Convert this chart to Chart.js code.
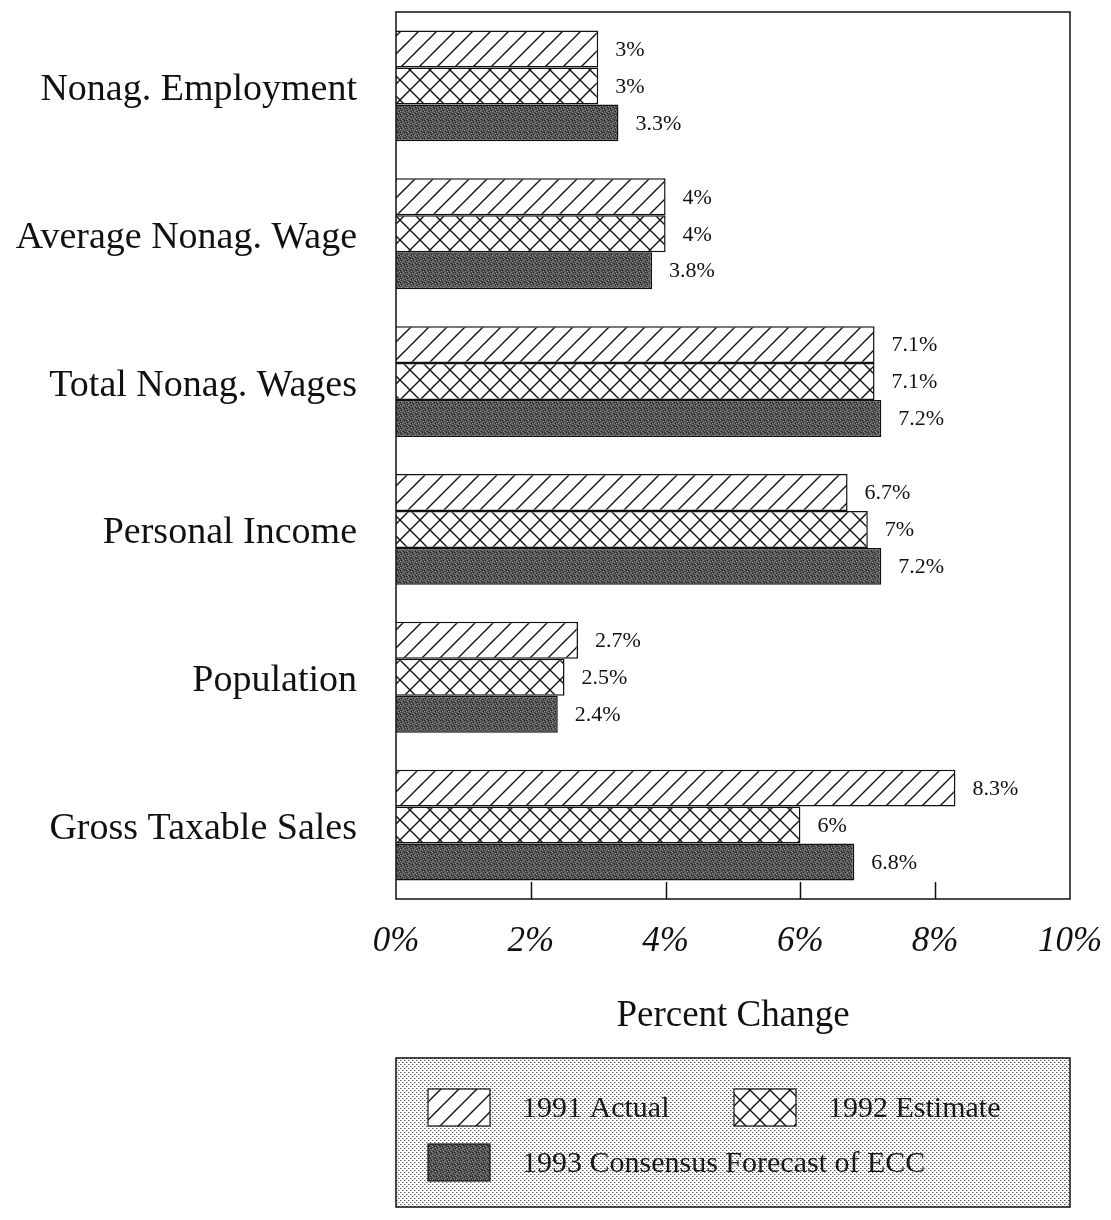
<!DOCTYPE html>
<html>
<head>
<meta charset="utf-8">
<title>Economic indicators - percent change</title>
<script src="https://cdn.jsdelivr.net/npm/chart.js@4.4.1/dist/chart.umd.min.js"></script>
<style>
  html, body { margin: 0; padding: 0; background: #fff; }
  #wrap { width: 1111px; height: 1220px; }
</style>
</head>
<body>
<div id="wrap"><canvas id="chart" width="1111" height="1220"></canvas></div>
<script>
// data
const categories = ['Nonag. Employment', 'Average Nonag. Wage', 'Total Nonag. Wages', 'Personal Income', 'Population', 'Gross Taxable Sales'];
const actual1991 = [3, 4, 7.1, 6.7, 2.7, 8.3];
const estimate1992 = [3, 4, 7.1, 7, 2.5, 6];
const forecast1993 = [3.3, 3.8, 7.2, 7.2, 2.4, 6.8];
const seriesNames = ['1991 Actual', '1992 Estimate', '1993 Consensus Forecast of ECC'];
const xTicks = [0, 2, 4, 6, 8, 10];
const axisTitle = 'Percent Change';

const SERIF = '"Liberation Serif", "Times New Roman", serif';
const INK = '#111';

// fill patterns
function makePattern(w, h, draw) {
    const c = document.createElement('canvas');
    c.width = w; c.height = h;
    const g = c.getContext('2d');
    draw(g, w, h);
    return g.createPattern(c, 'repeat');
}

const hatchFill = makePattern(18, 18, (g, s) => {
    g.fillStyle = '#fff'; g.fillRect(0, 0, s, s);
    g.strokeStyle = INK; g.lineWidth = 1.4;
    g.beginPath();
    g.moveTo(-2, s + 2); g.lineTo(s + 2, -2);
    g.moveTo(-2, 2); g.lineTo(2, -2);
    g.moveTo(s - 2, s + 2); g.lineTo(s + 2, s - 2);
    g.stroke();
});

const crossFill = makePattern(20, 20, (g, s) => {
    g.fillStyle = '#fff'; g.fillRect(0, 0, s, s);
    g.strokeStyle = INK; g.lineWidth = 1.4;
    g.beginPath();
    g.moveTo(-2, s + 2); g.lineTo(s + 2, -2);
    g.moveTo(-2, -2); g.lineTo(s + 2, s + 2);
    g.stroke();
});

// dark stipple, fixed pixel layout
const darkFill = makePattern(6, 6, (g) => {
    g.fillStyle = '#505050'; g.fillRect(0, 0, 6, 6);
    g.fillStyle = '#8a8a8a';
    [[0,0],[3,1],[1,2],[4,3],[2,4],[5,5],[0,3]].forEach(p => g.fillRect(p[0], p[1], 1, 1));
    g.fillStyle = '#262626';
    [[2,0],[5,2],[1,5],[3,3],[4,0]].forEach(p => g.fillRect(p[0], p[1], 1, 1));
});

// light dotted screen of the legend box
const dotFill = makePattern(4, 4, (g) => {
    g.fillStyle = '#fff'; g.fillRect(0, 0, 4, 4);
    g.fillStyle = '#555'; g.fillRect(0, 0, 1, 1); g.fillRect(2, 2, 1, 1);
    g.fillStyle = '#bbb'; g.fillRect(1, 0, 1, 1); g.fillRect(3, 2, 1, 1);
});

function noPadding(s) {
    s.paddingLeft = 0; s.paddingRight = 0; s.paddingTop = 0; s.paddingBottom = 0;
}

// frame round the plot plus inward ticks on the bottom axis
const framePlugin = {
    id: 'frame',
    afterDraw(chart) {
        const g = chart.ctx, a = chart.chartArea, xs = chart.scales.x;
        g.save();
        g.strokeStyle = INK; g.lineWidth = 1.5;
        g.strokeRect(a.left, a.top, a.right - a.left, a.bottom - a.top);
        g.beginPath();
        xTicks.slice(1, -1).forEach(v => {
            const x = Math.round(xs.getPixelForValue(v)) + 0.5;
            g.moveTo(x, a.bottom); g.lineTo(x, a.bottom - 17);
        });
        g.stroke();
        g.restore();
    }
};

// value labels to the right of each bar
const valueLabels = {
    id: 'valueLabels',
    afterDatasetsDraw(chart) {
        const g = chart.ctx;
        g.save();
        g.font = '22px ' + SERIF;
        g.fillStyle = INK;
        g.textBaseline = 'middle';
        chart.data.datasets.forEach((ds, i) => {
            chart.getDatasetMeta(i).data.forEach((bar, j) => {
                g.fillText(ds.data[j] + '%', bar.x + 17, bar.y + 1);
            });
        });
        g.restore();
    }
};

// legend box under the axis title
const boxLegend = {
    id: 'boxLegend',
    afterDraw(chart) {
        const g = chart.ctx;
        const box = { left: 396, top: 1058, right: 1070, bottom: 1207 };
        const slots = [{ x: 428, y: 1089 }, { x: 734, y: 1089 }, { x: 428, y: 1144 }];
        g.save();
        g.fillStyle = dotFill;
        g.fillRect(box.left, box.top, box.right - box.left, box.bottom - box.top);
        g.strokeStyle = INK; g.lineWidth = 1.5;
        g.strokeRect(box.left, box.top, box.right - box.left, box.bottom - box.top);
        g.font = '30px ' + SERIF;
        g.textBaseline = 'middle';
        chart.data.datasets.forEach((ds, i) => {
            const s = slots[i];
            g.fillStyle = ds.backgroundColor;
            g.fillRect(s.x, s.y, 62, 37);
            g.strokeStyle = INK; g.lineWidth = 1.2;
            g.strokeRect(s.x, s.y, 62, 37);
            g.fillStyle = '#1a1a1a';
            g.fillText(ds.label, s.x + 94, s.y + 20);
        });
        g.restore();
    }
};

new Chart(document.getElementById('chart'), {
    type: 'bar',
    data: {
        labels: categories,
        datasets: [
            { label: seriesNames[0], data: actual1991, backgroundColor: hatchFill, borderColor: INK, borderWidth: 1.5 },
            { label: seriesNames[1], data: estimate1992, backgroundColor: crossFill, borderColor: INK, borderWidth: 1.5 },
            { label: seriesNames[2], data: forecast1993, backgroundColor: darkFill, borderColor: INK, borderWidth: 1.5 }
        ]
    },
    options: {
        indexAxis: 'y',
        responsive: false,
        animation: false,
        layout: { padding: { top: 12, right: 41, left: 0, bottom: 182 } },
        datasets: { bar: { categoryPercentage: 0.75, barPercentage: 1 } },
        plugins: { legend: { display: false }, tooltip: { enabled: false } },
        scales: {
            x: {
                min: 0, max: 10,
                afterBuildTicks: s => { s.ticks = xTicks.map(v => ({ value: v })); },
                afterFit: s => { s.height = 139; noPadding(s); },
                grid: { display: false, drawTicks: false },
                border: { display: false },
                ticks: { padding: 22, color: INK, font: { family: SERIF, size: 35, style: 'italic' }, callback: v => v + '%' },
                title: { display: true, text: axisTitle, color: INK, padding: 0, font: { family: SERIF, size: 37 } }
            },
            y: {
                afterFit: s => { s.width = 396; noPadding(s); },
                grid: { display: false, drawTicks: false },
                border: { display: false },
                ticks: { padding: 39, labelOffset: 4, color: INK, font: { family: SERIF, size: 38 } }
            }
        }
    },
    plugins: [framePlugin, valueLabels, boxLegend]
});
</script>
</body>
</html>
